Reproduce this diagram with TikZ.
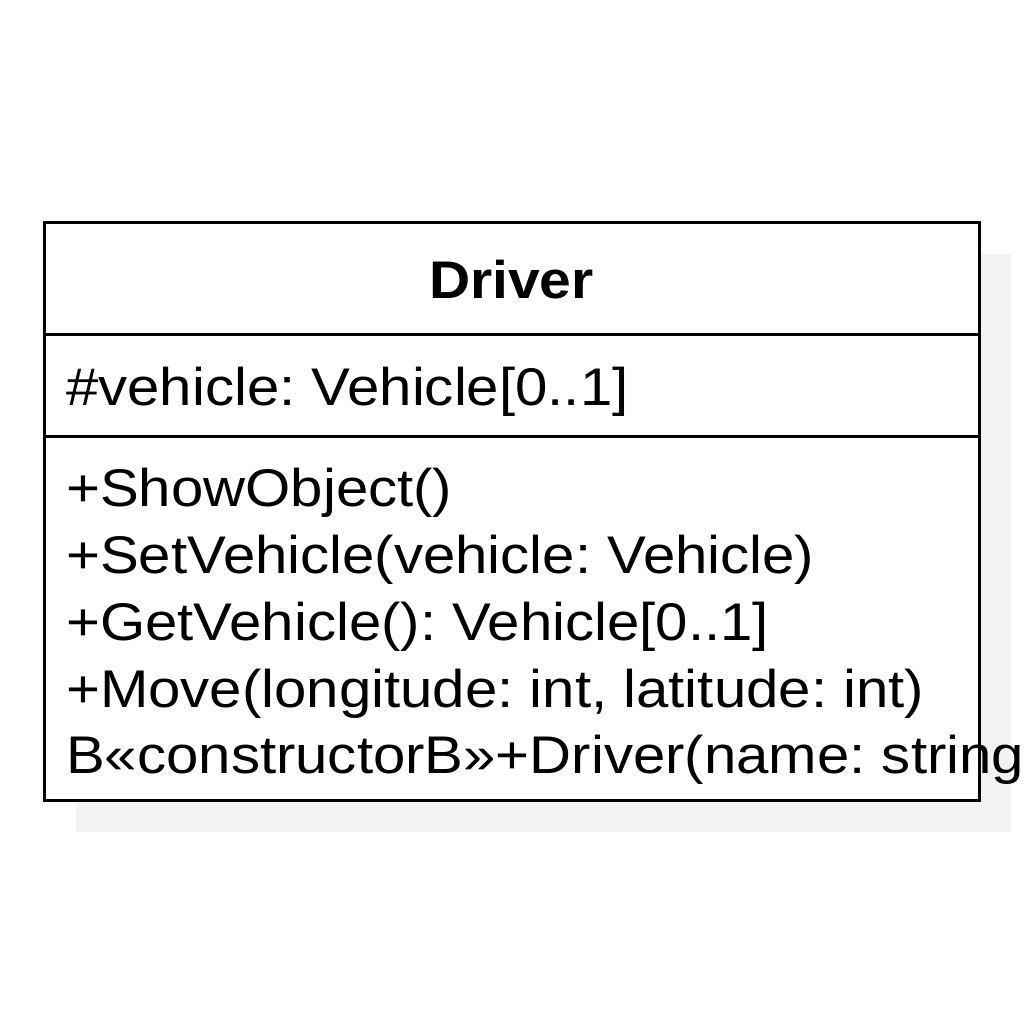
\documentclass[tikz,border=0pt]{standalone}
\usepackage{fontspec}
\setmainfont{Liberation Sans}[FakeStretch=1.097, BoldFeatures={FakeStretch=1.075}]
\frenchspacing
\begin{document}
\begin{tikzpicture}[x=1pt,y=-1pt,
  boxline/.style={line width=3pt, draw=black},
  txt/.style={anchor=base west, inner sep=0pt, font=\fontsize{53}{67}\selectfont\frenchspacing},
  ttl/.style={anchor=base, inner sep=0pt, font=\bfseries\fontsize{53}{67}\selectfont}]
\useasboundingbox (0,0) rectangle (1024,1024);
\fill[black!5] (76,254) rectangle (1011,832);
\draw[boxline, fill=white] (44,223) rectangle (979,800);
\draw[boxline] (44,334) -- (979,334);
\draw[boxline] (44,436) -- (979,436);
\node[ttl] (title) at (511.5,298) {Driver};
\node[txt] (attr) at (66,405) {\#vehicle: Vehicle[0..1]};
\node[txt] (op1) at (66,506) {+ShowObject()};
\node[txt] (op2) at (66,573) {+SetVehicle(vehicle: Vehicle)};
\node[txt] (op3) at (66,640) {+GetVehicle(): Vehicle[0..1]};
\node[txt] (op4) at (66,707) {+Move(longitude: int, latitude: int)};
\node[txt] (op5) at (66,773) {B«constructorB»+Driver(name: string)};
\end{tikzpicture}
\end{document}
